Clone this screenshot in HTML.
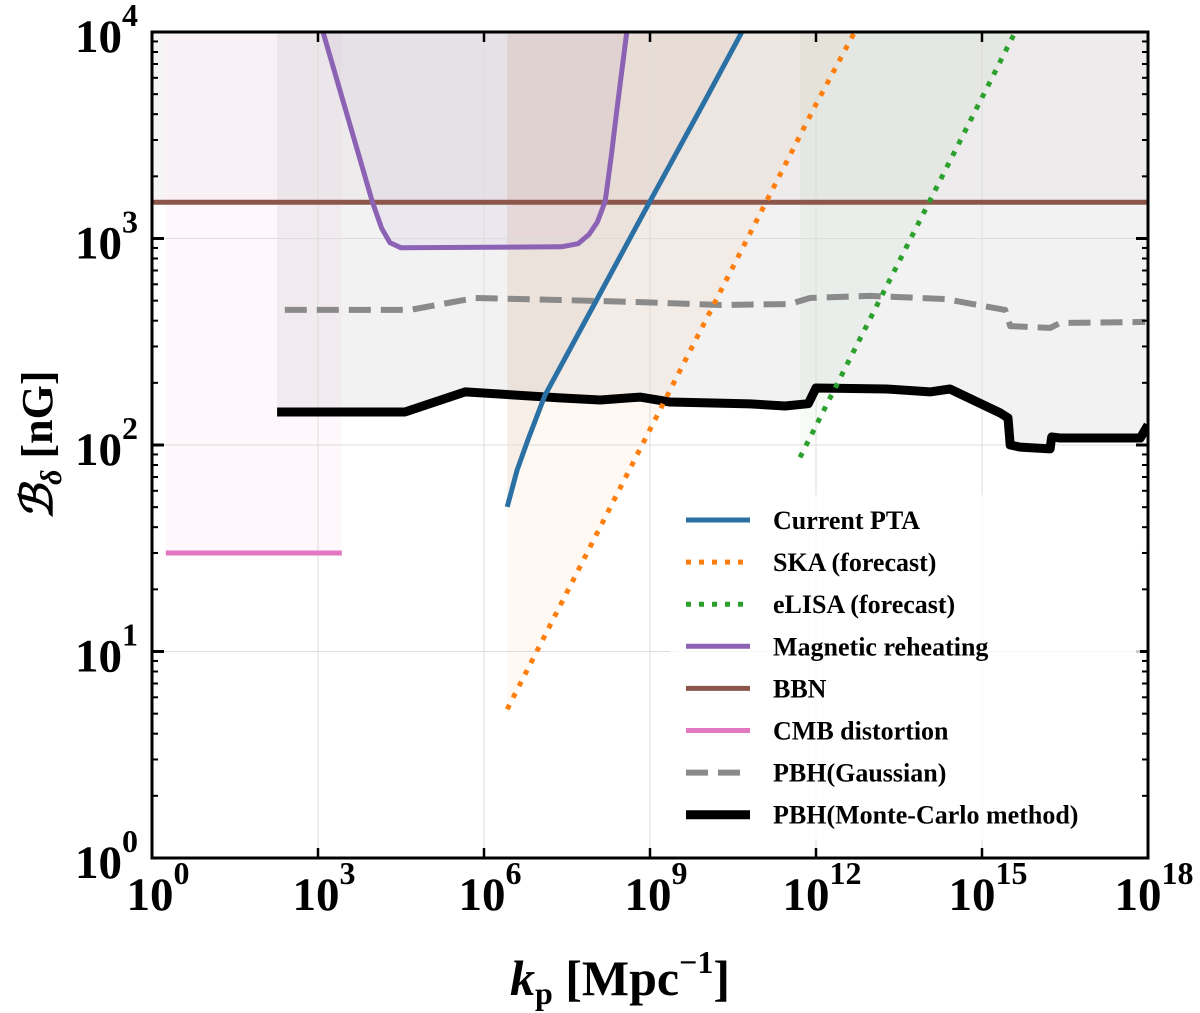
<!DOCTYPE html>
<html><head><meta charset="utf-8"><style>
html,body{margin:0;padding:0;background:#fff;}
svg{display:block;font-family:"Liberation Serif",serif;font-weight:bold;}
</style></head><body>
<svg id="chart" width="1200" height="1013" viewBox="0 0 1200 1013" xmlns="http://www.w3.org/2000/svg">
<g id="fills"></g>
<g id="grid"></g>
<g id="series"></g>
<g id="axes"></g>
<g id="legend"></g>
<text transform="translate(52,445) rotate(-90)" text-anchor="middle" font-size="44"><tspan font-style="italic">ℬ</tspan><tspan font-style="italic" font-size="30" dy="9">δ</tspan><tspan dy="-9"> [nG]</tspan></text>
<text x="620" y="995" text-anchor="middle" font-size="50"><tspan font-style="italic">k</tspan><tspan font-size="32" dy="9">p</tspan><tspan dy="-9"> [Mpc</tspan><tspan font-size="32" dy="-22">−1</tspan><tspan dy="22">]</tspan></text>
</svg>
<script>
// data in log10 units
const xTicks=[0,3,6,9,12,15,18];
const yTicks=[0,1,2,3,4];
const ptaK=[6.42,6.6,6.8,7.1,8,9,10,10.66];
const ptaB=[1.70,1.88,2.03,2.24,2.685,3.18,3.67,4.0];
const skaK=[6.42,8,10,12,12.7];
const skaB=[0.72,1.55,2.6,3.65,4.0];
const lisaK=[11.71,15.6];
const lisaB=[1.94,4.0];
const magK=[3.09,3.98,4.15,4.3,4.5,7.4,7.7,7.9,8.05,8.19,8.3,8.4,8.5,8.58];
const magB=[4.0,3.18,3.05,2.98,2.955,2.96,2.975,3.02,3.08,3.18,3.4,3.62,3.83,4.0];
const bbnK=[0,18];
const bbnB=[3.176,3.176];
const cmbK=[0.25,3.43];
const cmbB=[1.477,1.477];
const gaussK=[2.40,4.66,5.84,7.37,8.82,10.27,11.53,11.89,12.98,14.33,15.42,15.51,16.23,16.41,17.95];
const gaussB=[2.654,2.654,2.712,2.702,2.692,2.678,2.683,2.712,2.722,2.707,2.654,2.576,2.567,2.591,2.596];
const mcK=[2.26,4.57,5.66,7.37,8.10,8.82,9.36,10.81,11.44,11.86,12.0,13.28,14.06,14.42,15.33,15.47,15.51,15.69,16.23,16.26,16.41,17.86,18];
const mcB=[2.160,2.160,2.257,2.228,2.218,2.232,2.208,2.199,2.189,2.200,2.276,2.271,2.257,2.271,2.155,2.131,2.0,1.990,1.981,2.039,2.034,2.034,2.097];

const L=152,R=1148,T=32,B=858;
const X=v=>L+(v-0)/18*(R-L);
const Y=v=>B-(v-0)/4*(B-T);
const NS="http://www.w3.org/2000/svg";
function mk(tag,attrs,parent){const e=document.createElementNS(NS,tag);for(const k in attrs)e.setAttribute(k,attrs[k]);parent.appendChild(e);return e;}
const pts=(ks,bs)=>ks.map((k,i)=>X(k).toFixed(1)+","+Y(bs[i]).toFixed(1));
const fills=document.getElementById('fills'),grid=document.getElementById('grid'),series=document.getElementById('series'),axes=document.getElementById('axes'),legend=document.getElementById('legend');

function fillAbove(ks,bs,color,op,name){
  const p=pts(ks,bs);
  p.unshift(X(ks[0]).toFixed(1)+","+T);p.push(X(ks[ks.length-1]).toFixed(1)+","+T);
  const e=mk('polygon',{points:p.join(' '),fill:color,'fill-opacity':op},fills);
  
  
}
fillAbove(bbnK,bbnB,'#8c564b',0.04,'bbn-fill');
fillAbove([0,0.25],[3.176,3.176],'#888',0.03,'bbn-edge-fill');
fillAbove(cmbK,cmbB,'#e377c2',0.05,'cmb-fill');
fillAbove(mcK,mcB,'#7f7f7f',0.1,'pbh-fill');
fillAbove(magK,magB,'#9467bd',0.08,'magnetic-fill');
fillAbove(ptaK.concat([18]),ptaB.concat([4]),'#8c564b',0.06,'pta-fill');
fillAbove(skaK.concat([18]),skaB.concat([4]),'#ff7f0e',0.05,'ska-fill');
fillAbove(lisaK.concat([18]),lisaB.concat([4]),'#2ca02c',0.04,'elisa-fill');

xTicks.forEach(t=>{if(t>0&&t<18){const g=mk('line',{x1:X(t),x2:X(t),y1:T,y2:B,stroke:'#ddd','stroke-width':1},grid);}});
yTicks.forEach(t=>{if(t>0&&t<4){const g=mk('line',{x1:L,x2:R,y1:Y(t),y2:Y(t),stroke:'#ddd','stroke-width':1},grid);}});

function line(ks,bs,color,w,dash,name){
  const e=mk('polyline',{points:pts(ks,bs).join(' '),fill:'none',stroke:color,'stroke-width':w,'stroke-linejoin':'round','stroke-linecap':'butt'},series);
  if(dash)e.setAttribute('stroke-dasharray',dash);
  
  
}
const clip=mk('clipPath',{id:'pc'},document.getElementById('chart'));
mk('rect',{x:L,y:T,width:R-L,height:B-T},clip);
series.setAttribute('clip-path','url(#pc)');
line(bbnK,bbnB,'#8c564b',5,null,'bbn-line');
line(cmbK,cmbB,'#e377c2',5,null,'cmb-line');
line(magK,magB,'#8c62b4',5,null,'magnetic-reheating-line');
line(gaussK,gaussB,'#8a8a8a',6,'22 10','pbh-gaussian-line');
line(mcK,mcB,'#000',9,null,'pbh-monte-carlo-line');
line(ptaK,ptaB,'#2a70a4',5,null,'pta-line');
line(skaK,skaB,'#ff7f0e',5,'5 8','ska-line');
line(lisaK,lisaB,'#2ca02c',5,'5 8','elisa-line');

const fr=mk('rect',{x:L,y:T,width:R-L,height:B-T,fill:'none',stroke:'#000','stroke-width':3},axes);


xTicks.forEach(t=>{
  mk('line',{x1:X(t),x2:X(t),y1:B,y2:B-10,stroke:'#000','stroke-width':2.5},axes);
  mk('line',{x1:X(t),x2:X(t),y1:T,y2:T+10,stroke:'#000','stroke-width':2.5},axes);
  const tx=mk('text',{x:X(t)+6,y:910,'text-anchor':'middle','font-size':47},axes);
  
  
  tx.innerHTML='<tspan>10</tspan><tspan font-size="32" dy="-26">'+t+'</tspan>';
});
yTicks.forEach(t=>{
  mk('line',{x1:L,x2:L+12,y1:Y(t),y2:Y(t),stroke:'#000','stroke-width':3},axes);
  mk('line',{x1:R,x2:R-12,y1:Y(t),y2:Y(t),stroke:'#000','stroke-width':3},axes);
  if(t<4){for(let m=2;m<10;m++){const yy=Y(t+Math.log10(m));mk('line',{x1:L,x2:L+6,y1:yy,y2:yy,stroke:'#000','stroke-width':2},axes);mk('line',{x1:R,x2:R-6,y1:yy,y2:yy,stroke:'#000','stroke-width':2},axes);}}
  const tx=mk('text',{x:138,y:Y(t)+20,'text-anchor':'end','font-size':47},axes);
  
  
  tx.innerHTML='<tspan>10</tspan><tspan font-size="32" dy="-26">'+t+'</tspan>';
});

const lg=mk('rect',{x:670,y:495,width:470,height:345,fill:'#fff','fill-opacity':0.8},legend);


const items=[['Current PTA','#2a70a4',5,null],['SKA (forecast)','#ff7f0e',5,'5 8'],['eLISA (forecast)','#2ca02c',5,'5 8'],['Magnetic reheating','#8c62b4',5,null],['BBN','#8c564b',5,null],['CMB distortion','#e377c2',5,null],['PBH(Gaussian)','#8a8a8a',6,'22 10'],['PBH(Monte-Carlo method)','#000',9,null]];
items.forEach((it,i)=>{
  const y=520+i*42.1;
  const g=mk('g',{},legend);
  
  
  const l=mk('line',{x1:686,x2:750,y1:y,y2:y,stroke:it[1],'stroke-width':it[2]},g);
  if(it[3])l.setAttribute('stroke-dasharray',it[3]);
  const t=mk('text',{x:773,y:y+9,'font-size':26,textLength:0},g);
  t.removeAttribute('textLength');
  t.textContent=it[0];
});
</script>
</body></html>
